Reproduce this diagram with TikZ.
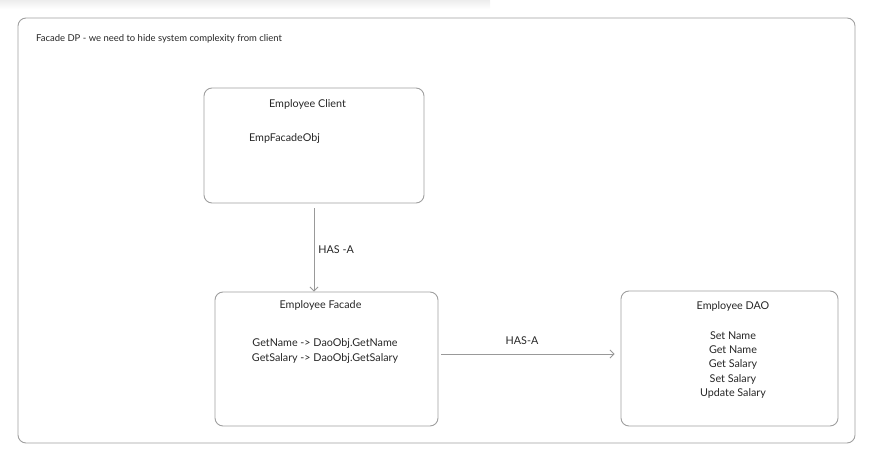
\documentclass[tikz,border=0pt]{standalone}
\usepackage{fontspec}
\setmainfont{Lato}
\usepackage{tikz}
\usetikzlibrary{calc, arrows.meta}

\begin{document}
\begin{tikzpicture}[x=1bp, y=-1bp,
    box/.style={draw=gray!75, line width=0.9bp, rounded corners=8bp, inner sep=0pt},
    txt/.style={text=black!85, inner sep=0pt, font=\fontsize{10.8}{14.5}\selectfont},
    conn/.style={draw=gray!80, line width=0.8bp, -{Straight Barb[length=4bp, width=8bp]}}]
  \useasboundingbox (0,0) rectangle (883,464);

  % ---- ombre en haut ----
  \shade[top color=gray!14, bottom color=white] (0,0) rectangle (490,9);

  % ---- cadre ----
  \node[box, minimum width=837bp, minimum height=425bp] (frame) at (436.5,230.5) {};
  \node[txt, anchor=west, font=\fontsize{9.5}{12}\selectfont] (title) at (36,39)
    {Facade DP - we need to hide system complexity from client};

  % ---- Employee Client ----
  \node[box, minimum width=220bp, minimum height=115bp] (client) at (314,145.5) {};
  \node[txt] (clienttitle) at (307.5,104) {Employee Client};
  \node[txt] (clientobj) at (284.5,139) {EmpFacadeObj};

  % ---- Employee Facade ----
  \node[box, minimum width=223bp, minimum height=134bp] (facade) at (326.5,359) {};
  \node[txt] (facadetitle) at (320.5,305) {Employee Facade};
  \node[txt, align=center] (facadeops) at (325,351)
    {GetName -> DaoObj.GetName\\GetSalary -> DaoObj.GetSalary};

  % ---- Employee DAO ----
  \node[box, minimum width=217bp, minimum height=135bp] (dao) at (729.5,358.5) {};
  \node[txt] (daotitle) at (733,306) {Employee DAO};
  \node[txt, align=center] (daoops) at (733,365)
    {Set Name\\Get Name\\Get Salary\\Set Salary\\Update Salary};

  % ---- liens ----
  \draw[conn] ($(client.south)+(0,5)$) -- (client.south |- facade.north)
    node[midway, txt, anchor=west, xshift=4bp] (hasa1) {HAS -A};
  \draw[conn] ($(facade.east)+(3,-5)$) -- ($(facade.east -| dao.west)+(-6,-5)$)
    node[midway, txt, anchor=south, yshift=9bp, xshift=-6bp] (hasa2) {HAS-A};
\end{tikzpicture}
\end{document}
